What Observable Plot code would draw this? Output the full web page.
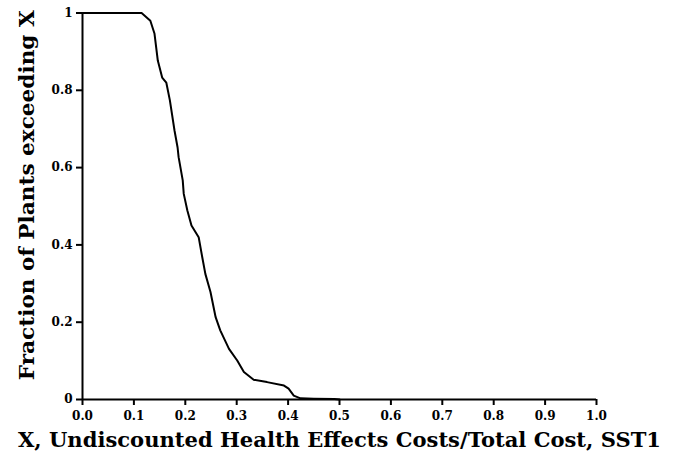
<!DOCTYPE html>
<html>
<head>
<meta charset="utf-8">
<script src="https://cdn.jsdelivr.net/npm/d3@7"></script>
<script src="https://cdn.jsdelivr.net/npm/@observablehq/plot@0.6"></script>
<style>
  html, body { margin: 0; padding: 0; background: #fff; }
  #chart svg { display: block; }
</style>
</head>
<body>
<div id="chart"></div>
<script>
// Data (complementary cumulative distribution)
const xValues = [0, 0.115, 0.132, 0.140, 0.1465, 0.155, 0.163, 0.170, 0.179, 0.185, 0.187, 0.195, 0.197, 0.204, 0.212, 0.226, 0.233, 0.239, 0.249, 0.259, 0.268, 0.285, 0.301, 0.314, 0.333, 0.359, 0.392, 0.401, 0.411, 0.424, 0.45, 0.49, 0.5];
const yValues = [1, 1, 0.98, 0.947, 0.877, 0.833, 0.82, 0.774, 0.696, 0.652, 0.627, 0.567, 0.532, 0.489, 0.450, 0.420, 0.368, 0.325, 0.278, 0.213, 0.179, 0.131, 0.101, 0.071, 0.051, 0.045, 0.036, 0.028, 0.010, 0.003, 0.002, 0.001, 0];
const xTicks = [0, 0.1, 0.2, 0.3, 0.4, 0.5, 0.6, 0.7, 0.8, 0.9, 1.0];
const yTicks = [0, 0.2, 0.4, 0.6, 0.8, 1];
const xLabel = "X, Undiscounted Health Effects Costs/Total Cost, SST1";
const yLabel = "Fraction of Plants exceeding X";

const data = xValues.map((x, i) => ({x, y: yValues[i]}));

const chart = Plot.plot({
  width: 675,
  height: 475,
  marginLeft: 82,
  marginRight: 79,
  marginTop: 12.5,
  marginBottom: 76,
  style: {fontFamily: "'DejaVu Serif', serif", fontWeight: "bold", background: "#fff", color: "#000"},
  x: {domain: [0, 1]},
  y: {domain: [0, 1]},
  marks: [
    Plot.axisX({ticks: xTicks, tickFormat: d3.format(".1f"), tickSize: 6, tickPadding: 6, label: null, fontSize: 12, strokeWidth: 2}),
    Plot.axisY({ticks: yTicks, tickFormat: d => String(d), tickSize: 6, tickPadding: 4, label: null, fontSize: 12, strokeWidth: 2}),
    Plot.ruleY([0], {strokeWidth: 2}),
    Plot.ruleX([0], {strokeWidth: 2}),
    Plot.line(data, {x: "x", y: "y", strokeWidth: 2, stroke: "#000", curve: "linear"}),
    Plot.text([xLabel], {frameAnchor: "bottom", dy: 47, fontSize: 20, fontWeight: "bold", fill: "#000", className: "xlab"}),
    Plot.text([yLabel], {frameAnchor: "left", dx: -55, dy: -11, rotate: -90, fontSize: 21, fontWeight: "bold", fill: "#000", className: "ylab"})
  ]
});
document.getElementById("chart").appendChild(chart);
// Fit the long axis titles to the lengths they occupy in the reference (centred on their anchor)
function fit(sel, len) {
  d3.select(chart).selectAll(sel + " text")
    .attr("text-anchor", "start")
    .attr("x", -len / 2)
    .attr("textLength", len)
    .attr("lengthAdjust", "spacingAndGlyphs");
}
fit(".xlab", 643);
fit(".ylab", 370);
</script>
</body>
</html>
